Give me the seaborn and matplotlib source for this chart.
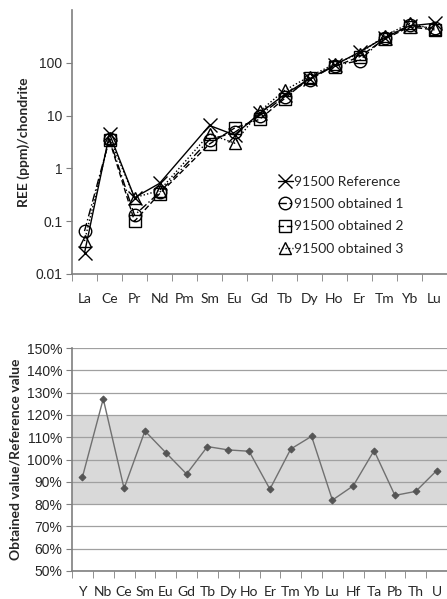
import numpy as np
import pandas as pd
import matplotlib
matplotlib.use('Agg')
import matplotlib.pyplot as plt
import seaborn as sns

sns.set_style('white')
plt.rcParams['font.family'] = ['Lato', 'DejaVu Sans']

# --- REE chondrite-normalised data (Pm has no value) ---
ree = ['La', 'Ce', 'Pr', 'Nd', 'Pm', 'Sm', 'Eu', 'Gd', 'Tb', 'Dy', 'Ho', 'Er', 'Tm', 'Yb', 'Lu']
ref_vals = [0.025, 4.5, 0.28, 0.52, None, 6.5, 4.3, 11, 25, 50, 90, 160, 300, 500, 560]
obt1_vals = [0.065, 3.6, 0.13, 0.35, None, 3.5, 4.8, 10, 23, 48, 88, 110, 300, 510, 450]
obt2_vals = [None, 3.4, 0.10, 0.33, None, 2.9, 5.8, 8.5, 21, 52, 85, 130, 280, 480, 420]
obt3_vals = [0.042, 3.8, 0.28, 0.38, None, 4.5, 3.0, 12, 30, 55, 95, 150, 320, 560, 430]

series_names = ['91500 Reference', '91500 obtained 1', '91500 obtained 2', '91500 obtained 3']
series_vals = [ref_vals, obt1_vals, obt2_vals, obt3_vals]
markers = ['x', 'o', 's', '^']
styles = ['-', (0, (6, 2, 1, 2)), (0, (4, 2)), (0, (1, 1.5))]
msizes = [10, 9, 9, 9]

# --- obtained / reference ratio (%) ---
elems = ['Y', 'Nb', 'Ce', 'Sm', 'Eu', 'Gd', 'Tb', 'Dy', 'Ho', 'Er', 'Tm', 'Yb', 'Lu', 'Hf', 'Ta', 'Pb', 'Th', 'U']
ratio = [92.1, 127.2, 87.0, 112.8, 103.1, 93.5, 105.8, 104.3, 103.7, 86.7,
         104.7, 110.4, 81.8, 88.2, 104.0, 83.9, 85.7, 95.0]

fig = plt.figure(figsize=(4.47, 5.99), dpi=100)
W, H = 447, 599
ax1 = fig.add_axes([72 / W, 1 - 274 / H, 375 / W, 264 / H])
ax2 = fig.add_axes([72 / W, 1 - 571 / H, 375 / W, 223 / H])

axis_col = '#7f7f7f'

# top chart
for name, vals, mk, ls, ms in zip(series_names, series_vals, markers, styles, msizes):
    df = pd.DataFrame({'x': range(len(ree)), 'y': vals}).dropna()
    sns.lineplot(data=df, x='x', y='y', ax=ax1, color='black', linestyle=ls, linewidth=1.0,
                 marker=mk, markersize=ms, markerfacecolor='none', markeredgecolor='black',
                 markeredgewidth=1.0, label=name)

ax1.set_yscale('log')
ax1.set_ylim(0.01, 1000)
ax1.set_yticks([0.01, 0.1, 1, 10, 100])
ax1.set_yticklabels(['0.01', '0.1', '1', '10', '100'], family='Liberation Sans', fontsize=10)
ax1.yaxis.set_minor_locator(matplotlib.ticker.NullLocator())
ax1.set_xlim(-0.5, len(ree) - 0.5)
ax1.set_xticks(range(len(ree)))
ax1.set_xticklabels(ree, fontsize=10)
ax1.set_xticks(np.arange(-0.5, len(ree), 1), minor=True)
ax1.tick_params(axis='x', which='major', length=0, pad=14)
ax1.tick_params(axis='x', which='minor', length=5, color=axis_col, direction='out', bottom=True)
ax1.tick_params(axis='y', length=4, color=axis_col, direction='out', left=True, pad=3)
ax1.set_xlabel('')
ax1.set_ylabel('REE (ppm)/chondrite', fontsize=10, fontweight='bold', labelpad=4)
for s in ['top', 'right']:
    ax1.spines[s].set_visible(False)
for s in ['left', 'bottom']:
    ax1.spines[s].set_color(axis_col)
    ax1.spines[s].set_linewidth(1.2)
ax1.legend(loc='upper left', bbox_to_anchor=(272 / W, 1 - 170 / H), bbox_transform=fig.transFigure,
           frameon=False, fontsize=10, handlelength=1.1, handletextpad=0.1, labelspacing=0.75,
           borderaxespad=0)

# bottom chart
ax2.axhspan(80, 120, color='#d9d9d9', zorder=0, lw=0)
df2 = pd.DataFrame({'elem': elems, 'ratio': ratio})
sns.lineplot(data=df2, x=np.arange(len(elems)), y='ratio', ax=ax2, color='#707070',
             linewidth=1.0, marker='D', markersize=3.5, markeredgecolor='#555555',
             markerfacecolor='#555555', zorder=3)
ax2.set_ylim(50, 150)
ax2.set_yticks(range(50, 151, 10))
ax2.set_yticklabels([f'{v}%' for v in range(50, 151, 10)], family='Liberation Sans', fontsize=10)
ax2.grid(axis='y', color='#a0a0a0', linewidth=0.9, zorder=1)
ax2.set_axisbelow(True)
ax2.set_xlim(-0.5, len(elems) - 0.5)
ax2.set_xticks(range(len(elems)))
ax2.set_xticklabels(elems, fontsize=10)
ax2.set_xticks(np.arange(-0.5, len(elems), 1), minor=True)
ax2.tick_params(axis='x', which='major', length=0, pad=11)
ax2.tick_params(axis='x', which='minor', length=5, color=axis_col, direction='out', bottom=True)
ax2.tick_params(axis='y', length=4, color=axis_col, direction='out', left=True, pad=3)
ax2.set_xlabel('')
ax2.set_ylabel('Obtained value/Reference value', fontsize=10, fontweight='bold', labelpad=4)
for s in ['top', 'right']:
    ax2.spines[s].set_visible(False)
for s in ['left', 'bottom']:
    ax2.spines[s].set_color(axis_col)
    ax2.spines[s].set_linewidth(1.2)

fig.savefig('out.png', dpi=100)
